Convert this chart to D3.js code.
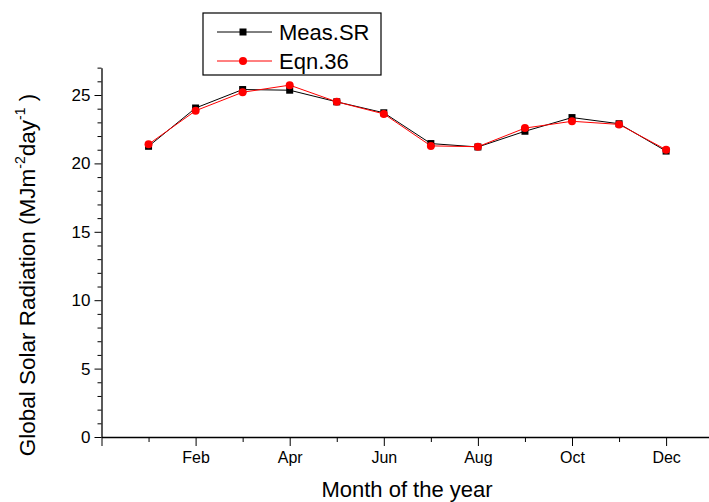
<!DOCTYPE html>
<html>
<head>
<meta charset="utf-8">
<script src="https://cdn.jsdelivr.net/npm/d3@7"></script>
<style>
  body { margin: 0; background: #fff; }
  svg { display: block; font-family: Arial, "Liberation Sans", sans-serif; }
</style>
</head>
<body>
<svg id="chart" width="709" height="502"></svg>
<script>
(function(){

	// monthly values
	const months = [1, 2, 3, 4, 5, 6, 7, 8, 9, 10, 11, 12];
	const measSR = [21.25, 24.05, 25.4, 25.35, 24.5, 23.7, 21.45, 21.2, 22.35, 23.35, 22.9, 20.9];
	const eqn36 = [21.4, 23.85, 25.2, 25.72, 24.5, 23.62, 21.28, 21.22, 22.58, 23.08, 22.85, 21.0];

	const xTickLabels = {2: "Feb", 4: "Apr", 6: "Jun", 8: "Aug", 10: "Oct", 12: "Dec"};
	const yMajorTicks = [0, 5, 10, 15, 20, 25];
	const seriesNames = ["Meas.SR", "Eqn.36"];

	const svg = d3.select("#chart");
	const fontFam = "Arial, 'Liberation Sans', sans-serif";

	const x = d3.scaleLinear().domain([0, 13]).range([101.5, 101.5 + 13 * 47.05]);
	const y = d3.scaleLinear().domain([0, 27]).range([437, 437 - 27 * 13.68]);

	// y axis: major ticks every 5, minor every 1
	const yMinor = d3.range(0, 28, 1).filter(v => v % 5 != 0);
	svg.append("g")
		.attr("transform", "translate(" + x(0) + ",0)")
		.call(d3.axisLeft(y).tickValues(yMinor).tickSize(4).tickFormat(""))
		.call(g => g.select(".domain").remove())
		.selectAll("line").attr("stroke", "#000");

	const yAxis = svg.append("g")
		.attr("transform", "translate(" + x(0) + ",0)")
		.call(d3.axisLeft(y).tickValues(yMajorTicks).tickSize(7).tickSizeOuter(0).tickPadding(4));
	yAxis.selectAll("text").attr("font-size", 17).attr("fill", "#000").attr("font-family", fontFam);
	yAxis.select(".domain").attr("stroke", "#000").attr("stroke-width", 1.3);

	// x axis: labelled ticks on even months, short ticks on odd months
	const xMinor = d3.range(1, 13, 2);
	svg.append("g")
		.attr("transform", "translate(0," + y(0) + ")")
		.call(d3.axisBottom(x).tickValues(xMinor).tickSize(5).tickFormat(""))
		.call(g => g.select(".domain").remove())
		.selectAll("line").attr("stroke", "#000");

	const xAxis = svg.append("g")
		.attr("transform", "translate(0," + y(0) + ")")
		.call(d3.axisBottom(x).tickValues([0, 2, 4, 6, 8, 10, 12]).tickSize(9).tickSizeOuter(0).tickPadding(6)
			.tickFormat(d => xTickLabels[d] || ""));
	xAxis.selectAll("text").attr("font-size", 16).attr("fill", "#000").attr("font-family", fontFam);
	xAxis.select(".domain").attr("stroke", "#000").attr("stroke-width", 1.3);

	// lines and markers
	const line = d3.line().x((d, i) => x(months[i])).y(d => y(d));

	svg.append("path").datum(measSR)
		.attr("d", line).attr("fill", "none").attr("stroke", "#000").attr("stroke-width", 1);
	svg.append("path").datum(eqn36)
		.attr("d", line).attr("fill", "none").attr("stroke", "#ff0000").attr("stroke-width", 1);

	svg.append("g").selectAll("rect").data(measSR).join("rect")
		.attr("x", (d, i) => x(months[i]) - 3.5)
		.attr("y", d => y(d) - 3.5)
		.attr("width", 7).attr("height", 7)
		.attr("fill", "#000");

	svg.append("g").selectAll("circle").data(eqn36).join("circle")
		.attr("cx", (d, i) => x(months[i]))
		.attr("cy", d => y(d))
		.attr("r", 4)
		.attr("fill", "#ff0000");

	// axis titles
	svg.append("text")
		.attr("x", 407).attr("y", 497)
		.attr("text-anchor", "middle").attr("font-size", 22).attr("fill", "#000")
		.text("Month of the year");

	const yTitle = svg.append("text")
		.attr("transform", "translate(35,275) rotate(-90)")
		.attr("text-anchor", "middle").attr("font-size", 22.5).attr("fill", "#000");
	yTitle.append("tspan").text("Global Solar Radiation (MJm");
	yTitle.append("tspan").attr("font-size", 14).attr("dy", -10).text("-2");
	yTitle.append("tspan").attr("dy", 10).text("day");
	yTitle.append("tspan").attr("font-size", 14).attr("dy", -10).text("-1");
	yTitle.append("tspan").attr("dy", 10).text(" )");

	// legend
	const legend = svg.append("g");
	legend.append("rect")
		.attr("x", 203).attr("y", 13).attr("width", 178).attr("height", 62)
		.attr("fill", "#fff").attr("stroke", "#000").attr("stroke-width", 1.2);

	const rows = [32, 61];
	const colors = ["#000", "#ff0000"];
	seriesNames.forEach(function(name, i){
		const ry = rows[i];
		legend.append("line")
			.attr("x1", 217).attr("x2", 272).attr("y1", ry).attr("y2", ry)
			.attr("stroke", colors[i]).attr("stroke-width", 1);
		if (i == 0) {
			legend.append("rect").attr("x", 243 - 3.5).attr("y", ry - 3.5)
				.attr("width", 7).attr("height", 7).attr("fill", "#000");
		} else {
			legend.append("circle").attr("cx", 243).attr("cy", ry).attr("r", 4).attr("fill", "#ff0000");
		}
		legend.append("text")
			.attr("x", 279).attr("y", ry + 8)
			.attr("font-size", 22).attr("fill", "#000")
			.text(name);
	});

}());
</script>
</body>
</html>
